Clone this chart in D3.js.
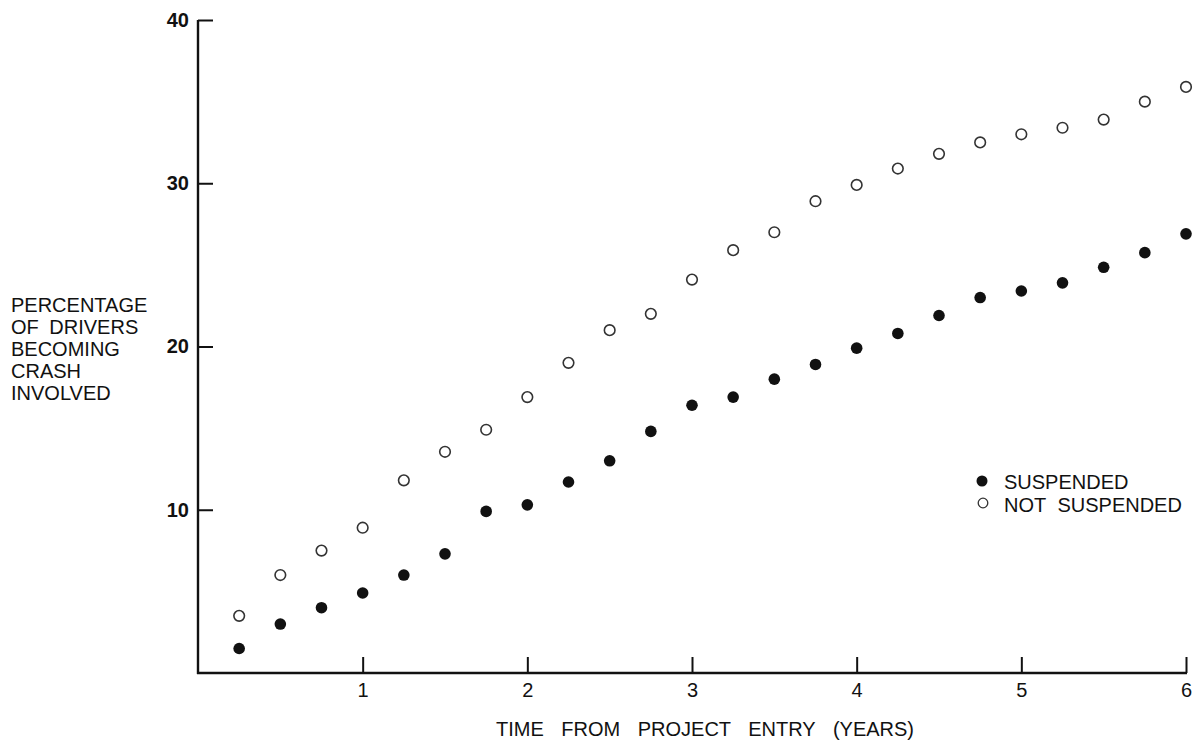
<!DOCTYPE html>
<html>
<head>
<meta charset="utf-8">
<script src="https://cdn.jsdelivr.net/npm/d3@7"></script>
<style>
  html, body { margin: 0; padding: 0; background: #fff; }
  svg { display: block; font-family: "Liberation Sans", Arial, Helvetica, sans-serif; }
</style>
</head>
<body>
<svg id="chart" width="1194" height="742"></svg>
<script>
// ---- data ----
const years = [0.25, 0.5, 0.75, 1.0, 1.25, 1.5, 1.75, 2.0, 2.25, 2.5, 2.75, 3.0,
               3.25, 3.5, 3.75, 4.0, 4.25, 4.5, 4.75, 5.0, 5.25, 5.5, 5.75, 6.0];
const suspended = [1.5, 3.0, 4.0, 4.9, 6.0, 7.3, 9.9, 10.3, 11.7, 13.0, 14.8, 16.4,
                   16.9, 18.0, 18.9, 19.9, 20.8, 21.9, 23.0, 23.4, 23.9, 24.85, 25.75, 26.9];
const notSuspended = [3.5, 6.0, 7.5, 8.9, 11.8, 13.55, 14.9, 16.9, 19.0, 21.0, 22.0, 24.1,
                      25.9, 27.0, 28.9, 29.9, 30.9, 31.8, 32.5, 33.0, 33.4, 33.9, 35.0, 35.9];
const xTicks = [1, 2, 3, 4, 5, 6];
const yTicks = [10, 20, 30, 40];
const yLabelLines = ["PERCENTAGE", "OF DRIVERS", "BECOMING", "CRASH", "INVOLVED"];
const xTitle = "TIME FROM PROJECT ENTRY (YEARS)";
const legendLabels = ["SUSPENDED", "NOT SUSPENDED"];

// ---- layout ----
const svg = d3.select("#chart");
const x = d3.scaleLinear().domain([0, 6]).range([198, 1186]);
const y = d3.scaleLinear().domain([0, 40]).range([673, 20]);
const ink = "#111";

// axes
const yAxis = d3.axisLeft(y).tickValues(yTicks).tickSizeInner(-15).tickSizeOuter(0).tickPadding(9)
  .tickFormat(d3.format("d"));
const gy = svg.append("g").attr("transform", `translate(${x(0)},0)`).call(yAxis);
gy.select(".domain").attr("stroke", ink).attr("stroke-width", 2.4)
  .attr("d", `M0,${y(40)}V${y(0) + 1}`);
gy.selectAll(".tick line").attr("stroke", ink).attr("stroke-width", 2);
gy.selectAll(".tick text").attr("fill", ink).attr("font-size", 20).attr("font-weight", "bold")
  .attr("font-family", "Liberation Sans, Arial, sans-serif");

const xAxis = d3.axisBottom(x).tickValues(xTicks).tickSizeInner(-16).tickSizeOuter(0).tickPadding(10)
  .tickFormat(d3.format("d"));
const gx = svg.append("g").attr("transform", `translate(0,${y(0)})`).call(xAxis);
gx.select(".domain").attr("stroke", ink).attr("stroke-width", 2.4)
  .attr("d", `M${x(0) - 1},0H${x(6) + 1}`);
gx.selectAll(".tick line").attr("stroke", ink).attr("stroke-width", 2);
gx.selectAll(".tick text").attr("fill", ink).attr("font-size", 20)
  .attr("font-family", "Liberation Sans, Arial, sans-serif");

// y-axis title (multi-line, left)
const yt = svg.append("text").attr("fill", ink).attr("font-size", 20).attr("style", "word-spacing:5px");
yLabelLines.forEach((line, i) => {
  yt.append("tspan").attr("x", 11).attr("y", 312 + i * 22).text(line);
});

// x-axis title
svg.append("text").attr("x", 705).attr("y", 736).attr("text-anchor", "middle")
  .attr("fill", ink).attr("font-size", 20).attr("style", "word-spacing:12px")
  .text(xTitle);

// points
svg.append("g").selectAll("circle").data(years).join("circle")
  .attr("cx", (d) => x(d)).attr("cy", (d, i) => y(notSuspended[i])).attr("r", 5.3)
  .attr("fill", "#fff").attr("stroke", "#333").attr("stroke-width", 1.6);
svg.append("g").selectAll("circle").data(years).join("circle")
  .attr("cx", (d) => x(d)).attr("cy", (d, i) => y(suspended[i])).attr("r", 5.8)
  .attr("fill", ink);

// legend
const lg = svg.append("g");
lg.append("circle").attr("cx", 982).attr("cy", 481).attr("r", 5.5).attr("fill", ink);
lg.append("circle").attr("cx", 983).attr("cy", 503).attr("r", 4.8).attr("fill", "#fff")
  .attr("stroke", "#333").attr("stroke-width", 1.3);
legendLabels.forEach((t, i) => {
  lg.append("text").attr("x", 1004).attr("y", 489 + i * 22.5).attr("fill", ink)
    .attr("font-size", 20).attr("style", "word-spacing:6px").text(t);
});
</script>
</body>
</html>
